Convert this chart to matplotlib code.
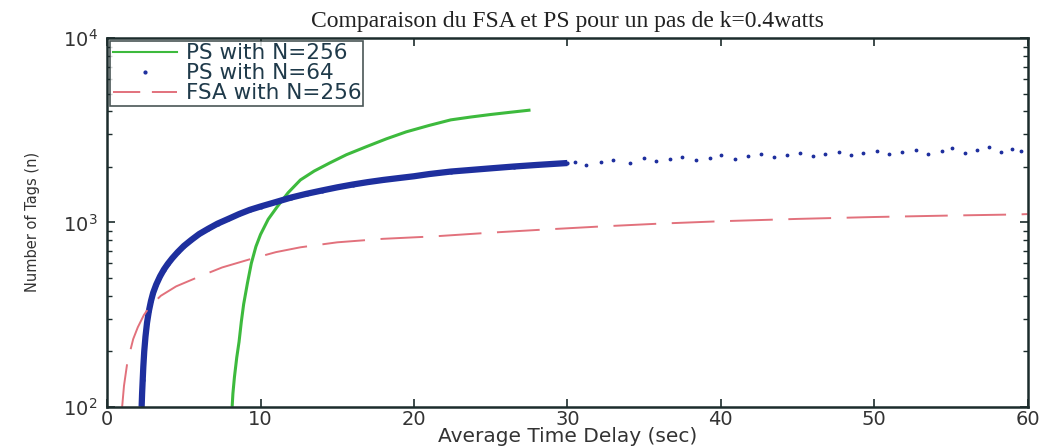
import numpy as np
import matplotlib.pyplot as plt
from matplotlib.lines import Line2D

# PS with N=256 (green)
ps256_x = [8.15, 8.2, 8.3, 8.45, 8.6, 8.75, 8.9, 9.15, 9.4, 9.7, 10.0, 10.5, 11.1, 11.8, 12.6, 13.5, 14.5, 15.6, 16.9, 18.2, 19.5, 21.0, 22.4, 23.7, 25.0, 26.3, 27.6]
ps256_y = [100, 118, 145, 185, 225, 290, 360, 470, 600, 740, 860, 1040, 1220, 1450, 1700, 1900, 2100, 2330, 2576, 2840, 3100, 3360, 3600, 3730, 3850, 3960, 4070]

# PS with N=64 (blue dots, dense band)
ps64_x = [2.25, 2.28, 2.32, 2.36, 2.42, 2.5, 2.6, 2.72, 2.86, 3.0, 3.2, 3.45, 3.7, 3.95, 4.25, 4.6, 5.0, 5.5, 6.0, 6.6, 7.2, 7.9, 8.6, 9.3, 10.0, 11.0, 12.0, 13.0, 14.0, 15.0, 16.0, 17.0, 18.0, 19.0, 20.0, 21.0, 22.4, 23.5, 25.0, 26.5, 28.0, 29.0, 30.0]
ps64_y = [100, 118, 140, 165, 200, 240, 285, 330, 375, 415, 460, 510, 555, 595, 640, 690, 745, 805, 865, 925, 985, 1045, 1110, 1170, 1220, 1290, 1365, 1430, 1490, 1550, 1605, 1655, 1700, 1740, 1780, 1830, 1888, 1920, 1965, 2010, 2050, 2075, 2100]

# PS with N=64, sparser points on the right
ps64_sx = [30.5, 31.2, 32.2, 33.0, 34.1, 35.0, 35.8, 36.7, 37.5, 38.4, 39.3, 40.0, 40.9, 41.8, 42.6, 43.5, 44.3, 45.2, 46.0, 46.8, 47.7, 48.5, 49.3, 50.2, 51.0, 51.8, 52.7, 53.5, 54.4, 55.1, 55.9, 56.7, 57.5, 58.3, 59.0, 59.6]
ps64_sy = [2120, 2060, 2137, 2190, 2110, 2230, 2160, 2200, 2270, 2180, 2240, 2330, 2210, 2290, 2350, 2260, 2320, 2390, 2280, 2350, 2420, 2310, 2380, 2450, 2340, 2400, 2480, 2360, 2430, 2530, 2380, 2470, 2560, 2400, 2510, 2450]

# FSA with N=256 (red dashed)
fsa_x = [0.98, 1.1, 1.3, 1.5, 1.7, 2.0, 2.4, 2.8, 3.5, 4.5, 6.07, 7.5, 9.3, 11.0, 12.6, 15.0, 18.0, 21.3, 25.0, 28.5, 32.2, 36.0, 40.0, 45.0, 50.0, 55.0, 59.4, 60.0]
fsa_y = [100, 130, 170, 200, 233, 270, 315, 351, 400, 450, 511, 570, 631, 690, 733, 780, 815, 840, 880, 915, 951, 985, 1015, 1045, 1070, 1090, 1105, 1110]

title = "Comparaison du FSA et PS pour un pas de k=0.4watts"
x_label = "Average Time Delay (sec)"
y_label = "Number of Tags (n)"

green = "#3dba3d"
blue = "#1e2f9e"
red = "#e2717c"
dark = "#1c2c2c"

plt.rcParams['mathtext.default'] = 'regular'
plt.rcParams['font.family'] = ['DejaVu Sans']

fig = plt.figure(figsize=(10.4, 4.48), dpi=100)
ax = fig.add_axes([0.103, 0.092, 0.885, 0.823])

ax.plot(ps256_x, ps256_y, color=green, lw=2.2, solid_capstyle='butt')
ax.plot(ps64_x, ps64_y, color=blue, lw=4.5, solid_capstyle='butt', solid_joinstyle='round')
ax.plot(ps64_x, ps64_y, '.', color=blue, ms=4)
ax.plot(ps64_sx, ps64_sy, '.', color=blue, ms=3.5)
ax.plot(fsa_x, fsa_y, color=red, lw=1.4, dashes=(22, 8))

ax.set_yscale('log')
ax.set_xlim(0, 60)
ax.set_ylim(100, 10000)
ax.set_xticks([0, 10, 20, 30, 40, 50, 60])

for s in ax.spines.values():
    s.set_color(dark)
    s.set_linewidth(1.8)
ax.tick_params(which='both', direction='in', top=True, right=True, color=dark)
ax.tick_params(which='major', length=6, width=1.2, labelsize=14, labelcolor='#333333', pad=2)
ax.tick_params(axis='y', which='major', pad=7)
ax.tick_params(which='minor', length=3.5, width=1.0)

ax.set_title(title, family='Liberation Serif', fontsize=17, color='#222222', pad=8)
ax.set_xlabel(x_label, fontsize=14.5, color='#333333', labelpad=-1)
ax.set_ylabel(y_label, family='DejaVu Sans Condensed', fontsize=10.5, color='#333333', labelpad=16)

handles = [Line2D([], [], color=green, lw=1.5),
           Line2D([], [], color=blue, marker='.', ls='none', ms=4),
           Line2D([], [], color=red, lw=1.4, dashes=(14, 6))]
labels = ["PS with N=256", "PS with N=64", "FSA with N=256"]
leg = ax.legend(handles, labels, loc='upper left', fontsize=15.5, handlelength=3.0,
                frameon=True, fancybox=False, edgecolor=dark, borderpad=0.1,
                labelspacing=0.0, handletextpad=0.4, borderaxespad=0.15)
leg.get_frame().set_linewidth(1.2)
for t in leg.get_texts():
    t.set_color('#1f3a4a')

fig.savefig('out.png', dpi=100)
